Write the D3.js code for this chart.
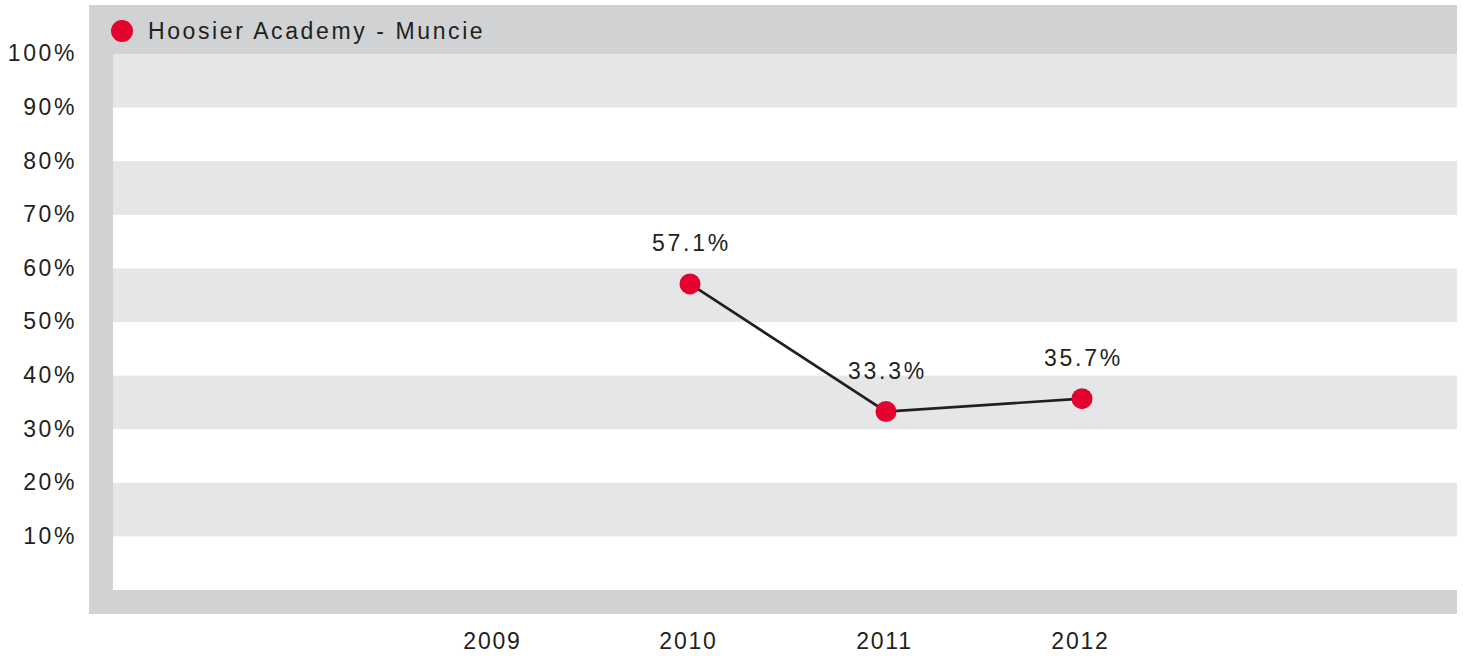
<!DOCTYPE html>
<html>
<head>
<meta charset="utf-8">
<script src="https://cdn.jsdelivr.net/npm/d3@7"></script>
<style>
  body { margin: 0; background: #fff; }
  text { font-family: "Liberation Sans", Arial, Helvetica, sans-serif; fill: #231f20; }
</style>
</head>
<body>
<svg id="chart" width="1463" height="656"></svg>
<script>
// data
var seriesName = "Hoosier Academy - Muncie";
var years = [2009, 2010, 2011, 2012];
var values = [null, 57.1, 33.3, 35.7];   // percent, 2009 has no value
var yTicks = [10, 20, 30, 40, 50, 60, 70, 80, 90, 100];

var svg = d3.select("#chart");

// frame + plot area
var frame = { left: 89, top: 5, right: 1457, bottom: 614 };
var plot = { left: 113, top: 54, right: 1457, bottom: 590 };

var frameGray = "#d1d2d4";
var bandGray = "#e5e6e8";
var red = "#e4032e";

var x = d3.scalePoint().domain(years).range([494, 1082]);
var y = d3.scaleLinear().domain([0, 100]).range([plot.bottom, plot.top]);

// gray frame (top bar, left bar, bottom bar)
svg.append("rect")
  .attr("x", frame.left).attr("y", frame.top)
  .attr("width", frame.right - frame.left).attr("height", frame.bottom - frame.top)
  .attr("fill", frameGray);

svg.append("rect")
  .attr("x", plot.left).attr("y", plot.top)
  .attr("width", plot.right - plot.left).attr("height", plot.bottom - plot.top)
  .attr("fill", "#fff");

// alternating bands
var bands = d3.range(0, 100, 10);
svg.append("g").selectAll("rect")
  .data(bands.filter(function(d){ return (d / 10) % 2 === 1; }))
  .enter().append("rect")
  .attr("x", plot.left)
  .attr("y", function(d){ return y(d + 10); })
  .attr("width", plot.right - plot.left)
  .attr("height", function(d){ return y(d) - y(d + 10); })
  .attr("fill", bandGray);

// y axis labels
var yAxis = d3.axisLeft(y).tickValues(yTicks).tickSize(0).tickPadding(12)
  .tickFormat(function(d){ return d + "%"; });
var yg = svg.append("g").attr("transform", "translate(" + frame.left + ",0)").call(yAxis);
yg.select(".domain").remove();
yg.selectAll("text")
  .attr("font-family", null)
  .style("font-size", "23px")
  .style("letter-spacing", "2.6px")
  .attr("dy", "0.3em");

// x axis labels
var xAxis = d3.axisBottom(x).tickSize(0).tickPadding(0);
var xg = svg.append("g").attr("transform", "translate(0," + frame.bottom + ")").call(xAxis);
xg.select(".domain").remove();
xg.selectAll("text")
  .attr("font-family", null)
  .attr("y", 35)
  .attr("dy", 0)
  .attr("dx", -2)
  .style("font-size", "23px")
  .style("letter-spacing", "1.8px");

// legend
svg.append("circle").attr("cx", 122).attr("cy", 31).attr("r", 11).attr("fill", red);
svg.append("text")
  .attr("x", 148).attr("y", 39)
  .style("font-size", "23px")
  .style("letter-spacing", "2.6px")
  .text(seriesName);

// line
var pts = years.map(function(d, i){ return { year: d, value: values[i] }; })
  .filter(function(d){ return d.value != null; });

var line = d3.line()
  .x(function(d){ return x(d.year); })
  .y(function(d){ return y(d.value); });

svg.append("path")
  .datum(pts)
  .attr("d", line)
  .attr("fill", "none")
  .attr("stroke", "#231f20")
  .attr("stroke-width", 2.7);

svg.append("g").selectAll("circle")
  .data(pts).enter().append("circle")
  .attr("cx", function(d){ return x(d.year); })
  .attr("cy", function(d){ return y(d.value); })
  .attr("r", 10.5)
  .attr("fill", red);

svg.append("g").selectAll("text")
  .data(pts).enter().append("text")
  .attr("x", function(d){ return x(d.year) + 1.5; })
  .attr("y", function(d){ return y(d.value) - 33; })
  .attr("text-anchor", "middle")
  .style("font-size", "23px")
  .style("letter-spacing", "2.8px")
  .text(function(d){ return d.value.toFixed(1) + "%"; });
</script>
</body>
</html>
